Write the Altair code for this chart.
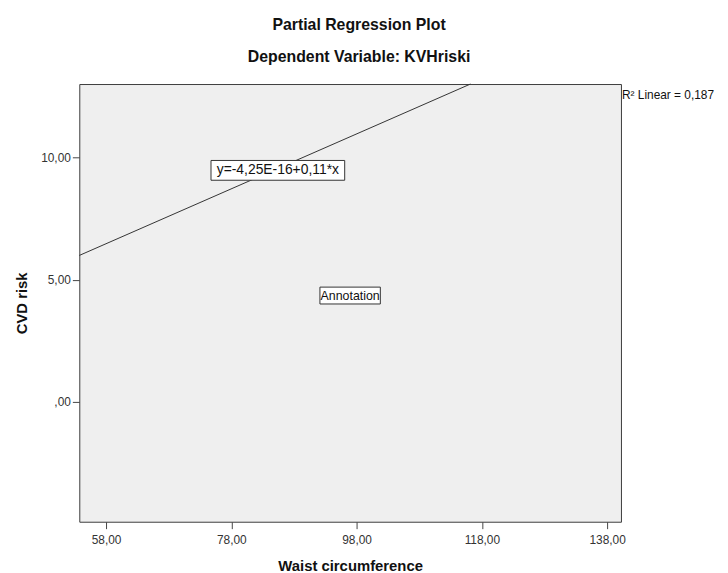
import altair as alt
import pandas as pd

# ---- data ----
x_ticks = [58, 78, 98, 118, 138]
y_ticks = [0, 5, 10]
x_domain = [53.73, 140.21]
y_domain = [-4.90, 13.0]

fit_x = [53.73, 116.18]
fit_y = [5.99, 13.0]

ann_text = ["y=-4,25E-16+0,11*x", "Annotation"]
ann_x = [85.43, 96.97]
ann_y = [9.47, 4.35]

r2_text = ["R\u00b2 Linear = 0,187"]
r2_x = [140.21]
r2_y = [12.55]

FONT = "Liberation Sans"
label_expr = "datum.value == 0 ? ',00' : replace(format(datum.value, '.2f'), '.', ',')"

xs = alt.Scale(domain=x_domain, nice=False, zero=False)
ys = alt.Scale(domain=y_domain, nice=False, zero=False)

x_axis = alt.Axis(values=x_ticks, labelExpr=label_expr, title="Waist circumference",
                  grid=False, domain=False, tickSize=7, tickColor="#444", labelPadding=6,
                  labelFont=FONT, labelFontSize=12, labelColor="#333",
                  titleFont=FONT, titleFontSize=15, titleFontWeight="bold", titleColor="#111",
                  titlePadding=13)
y_axis = alt.Axis(values=y_ticks, labelExpr=label_expr, title="CVD risk",
                  grid=False, domain=False, tickSize=7, tickColor="#444", labelPadding=2,
                  labelFont=FONT, labelFontSize=12, labelColor="#333",
                  titleFont=FONT, titleFontSize=15, titleFontWeight="bold", titleColor="#111",
                  titlePadding=11)

fit_df = pd.DataFrame({"x": fit_x, "y": fit_y})
ann_df = pd.DataFrame({"x": ann_x, "y": ann_y, "t": ann_text})
r2_df = pd.DataFrame({"x": r2_x, "y": r2_y, "t": r2_text})

line = alt.Chart(fit_df).mark_line(color="#333333", strokeWidth=1).encode(
    x=alt.X("x:Q", scale=xs, axis=x_axis),
    y=alt.Y("y:Q", scale=ys, axis=y_axis),
)

box1 = alt.Chart(ann_df.iloc[[0]]).mark_point(
    shape="M-1,-0.148L1,-0.148L1,0.148L-1,0.148Z", size=135 * 135,
    filled=True, fill="white", stroke="#333333", strokeWidth=1, opacity=1,
).encode(x=alt.X("x:Q", scale=xs), y=alt.Y("y:Q", scale=ys))

box2 = alt.Chart(ann_df.iloc[[1]]).mark_point(
    shape="M-1,-0.279L1,-0.279L1,0.279L-1,0.279Z", size=61 * 61,
    filled=True, fill="white", stroke="#333333", strokeWidth=1, opacity=1,
).encode(x=alt.X("x:Q", scale=xs), y=alt.Y("y:Q", scale=ys))

txt1 = alt.Chart(ann_df.iloc[[0]]).mark_text(
    font=FONT, fontSize=14, color="#111", align="center", baseline="middle"
).encode(x=alt.X("x:Q", scale=xs), y=alt.Y("y:Q", scale=ys), text="t:N")

txt2 = alt.Chart(ann_df.iloc[[1]]).mark_text(
    font=FONT, fontSize=12.5, color="#111", align="center", baseline="middle"
).encode(x=alt.X("x:Q", scale=xs), y=alt.Y("y:Q", scale=ys), text="t:N")

r2 = alt.Chart(r2_df).mark_text(
    font=FONT, fontSize=12, color="#111", align="left", baseline="middle", dx=1
).encode(x=alt.X("x:Q", scale=xs), y=alt.Y("y:Q", scale=ys), text="t:N")

chart = alt.layer(line, box1, txt1, box2, txt2, r2).properties(
    width=547, height=442,
    title=alt.TitleParams(
        text="Partial Regression Plot", subtitle="Dependent Variable: KVHriski",
        font=FONT, fontSize=16, fontWeight="bold", color="#111",
        subtitleFont=FONT, subtitleFontSize=16, subtitleFontWeight="bold", subtitleColor="#111",
        anchor="middle", frame="group", dx=9, offset=17, subtitlePadding=17,
    ),
    padding={"left": 72, "top": 74, "right": 100, "bottom": 49},
    autosize=alt.AutoSizeParams(type="none"),
).configure_view(
    fill="#efefef", stroke="#3c3c3c", strokeWidth=1
)

chart.save("out.html", embed_options={"renderer": "svg", "actions": False})
